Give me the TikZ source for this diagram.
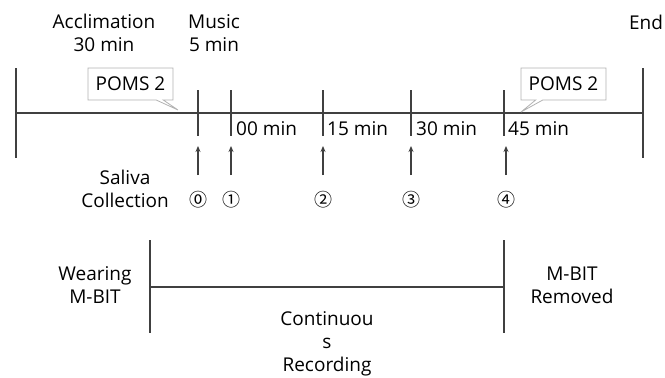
\documentclass[tikz,border=0pt]{standalone}
\usepackage{fontspec}
\setmainfont{Open Sans}
\newfontfamily\circfont{Noto Sans CJK JP}
\usetikzlibrary{shapes.callouts,arrows.meta}
\begin{document}
\begin{tikzpicture}[x=1pt,y=-1pt,
  lbl/.style={font=\fontsize{19}{23}\selectfont, inner sep=0pt, align=center},
  circ/.style={font=\circfont\fontsize{18}{20}\selectfont, inner sep=0pt},
  axis/.style={draw=black!75, line width=1.6pt},
  tickline/.style={draw=black!75, line width=1.6pt},
  arr/.style={draw=black!75, line width=1.3pt, -{Stealth[length=6pt,width=5pt]}},
  poms/.style={rectangle callout, draw=black!30, fill=white, line width=0.8pt,
    font=\fontsize{19}{23}\selectfont, minimum width=85pt, minimum height=32pt, inner sep=2pt}
]
\useasboundingbox (0,0) rectangle (665,378);
% coordinates of timeline
\coordinate (L0) at (16,68); \coordinate (L1) at (16,158);
\coordinate (R0) at (643,68); \coordinate (R1) at (643,158);
\coordinate (AL) at (16,113); \coordinate (AR) at (643,113);
\draw[axis] (AL) -- (AR);
\draw[axis] (L0) -- (L1);
\draw[axis] (R0) -- (R1);
% ticks
\foreach \n/\x in {t0/198,t1/231,t2/323,t3/411,t4/504}{
  \coordinate (\n a) at (\x,90); \coordinate (\n b) at (\x,136);
  \draw[tickline] (\n a) -- (\n b);
}
% arrows
\foreach \n/\x in {a0/198,a1/231,a2/323,a3/411,a4/506}{
  \coordinate (\n s) at (\x,175); \coordinate (\n e) at (\x,146);
  \draw[arr] (\n s) -- (\n e);
}
% top labels
\node[lbl] (accl) at (104,33) {Acclimation\\30 min};
\node[lbl] (music) at (214,33) {Music\\5 min};
\node[lbl] (end) at (646,22) {End};
% time labels
\node[lbl,anchor=west] (m00) at (236,129) {00 min};
\node[lbl,anchor=west] (m15) at (327,129) {15 min};
\node[lbl,anchor=west] (m30) at (416,129) {30 min};
\node[lbl,anchor=west] (m45) at (508,129) {45 min};
% POMS
\node[poms, callout absolute pointer={(178,110)}] (poms1) at (130.5,84) {POMS 2};
\node[poms, callout absolute pointer={(521,112)}] (poms2) at (563.5,84) {POMS 2};
% saliva
\node[lbl] (saliva) at (125,189) {Saliva\\Collection};
\node[circ] (c0) at (198,200) {⓪};
\node[circ] (c1) at (231,200) {①};
\node[circ] (c2) at (323,200) {②};
\node[circ] (c3) at (411,200) {③};
\node[circ] (c4) at (506,200) {④};
% M-BIT
\coordinate (W0) at (150,240); \coordinate (W1) at (150,333);
\coordinate (X0) at (504,240); \coordinate (X1) at (504,333);
\coordinate (WL) at (150,287); \coordinate (XL) at (504,287);
\draw[axis] (W0) -- (W1);
\draw[axis] (X0) -- (X1);
\draw[axis] (WL) -- (XL);
\node[lbl] (wear) at (95,285) {Wearing\\M-BIT};
\node[lbl] (remv) at (572,285) {M-BIT\\Removed};
\node[lbl] (cont) at (327,344) {Continuou\\s\\Recording};
\end{tikzpicture}
\end{document}
